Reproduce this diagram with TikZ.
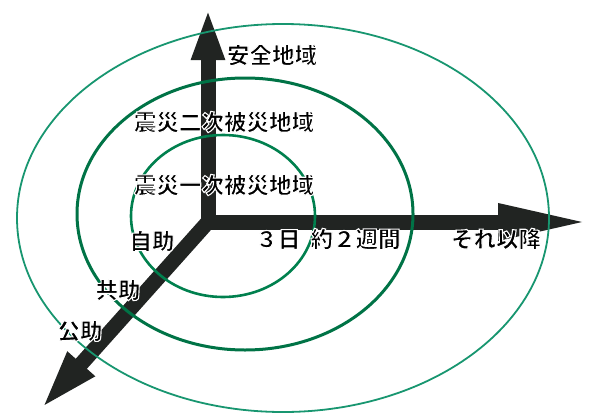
\documentclass[tikz,border=0pt]{standalone}
\usepackage{fontspec}
\setmainfont{Noto Sans CJK JP}
\usetikzlibrary{arrows.meta}
\definecolor{axisblack}{RGB}{33,36,34}
\definecolor{ringgreen}{RGB}{0,128,78}
\definecolor{ringteal}{RGB}{24,150,112}
% black glyphs with a thin white outline
\newcommand\halotext[1]{\special{pdf:literal direct 2 Tr 1 1 1 RG 1.1 w}#1\special{pdf:literal direct 0 Tr}}

\begin{document}
\begin{tikzpicture}[x=1pt,y=-1pt,
    axis/.style={line width=15pt,line cap=round,axisblack},
    ring/.style={ringgreen,line width=2.6pt},
    lbl/.style={inner sep=0pt,font=\fontsize{22.5}{27}\selectfont\bfseries}]
    \useasboundingbox (0,0) rectangle (593,412);
    \coordinate (0) at (208,222);
    \coordinate (1) at (208,8);
    \coordinate (2) at (591,222);
    \coordinate (3) at (40,410);
    \path
    (0) edge[axis,-{Triangle[length=52pt,width=30pt]}] (1)
    (0) edge[axis,-{Triangle[length=93pt,width=33pt]}] (2)
    (0) edge[axis,-{Triangle[length=62pt,width=32pt]}] (3)
    ;
    % three zones
    \draw[ring] (223,216) ellipse [x radius=92,y radius=81];
    \draw[ring,line width=3pt,ringgreen!90!black] (245,214) ellipse [x radius=168,y radius=136];
    \draw[ring,line width=1.8pt,ringteal] (283,218) ellipse [x radius=266,y radius=194];
    % labels
    \foreach \n/\x/\y/\t in {4/272/55/安全地域,5/224/122/震災二次被災地域,
        6/224/185/震災一次被災地域,7/152/241/自助,8/118/290/共助,9/80/331/公助,
        10/328/239/{３日\hspace{.45em}約２週間},11/496/239/それ以降}
      \node[lbl] (\n) at (\x,\y) {\halotext{\t}};
\end{tikzpicture}
\end{document}
